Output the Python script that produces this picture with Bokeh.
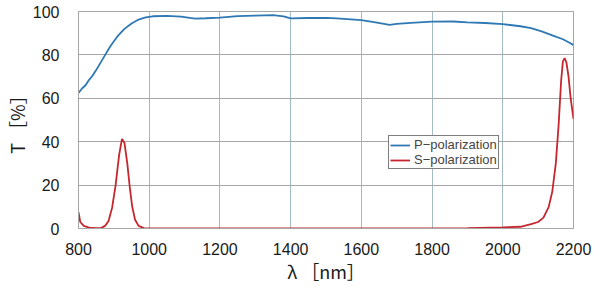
from bokeh.plotting import figure
from bokeh.models import Legend, LegendItem, Range1d, FixedTicker
from bokeh.embed import file_html
from bokeh.resources import INLINE

# P-polarization transmission (wavelength nm, T %)
p_wl = [800, 810, 820, 830, 840, 850, 870, 890, 910, 930, 950, 970, 990, 1010,
        1050, 1090, 1130, 1160, 1200, 1250, 1300, 1350, 1380, 1400, 1450, 1500,
        1530, 1560, 1600, 1640, 1680, 1700, 1740, 1800, 1860, 1900, 1950, 2000,
        2050, 2080, 2110, 2140, 2170, 2190, 2200]
p_t = [62.5, 64.5, 66.0, 68.5, 70.5, 73.0, 78.5, 84.0, 88.5, 92.0, 94.5, 96.3, 97.3, 97.8,
       98.0, 97.6, 96.7, 96.9, 97.2, 97.9, 98.1, 98.3, 97.8, 96.8, 97.0, 97.1,
       96.8, 96.5, 96.0, 95.0, 93.8, 94.3, 94.8, 95.3, 95.4, 95.0, 94.7, 94.2,
       93.2, 92.3, 90.8, 89.0, 87.2, 85.5, 84.5]

# S-polarization transmission
s_wl = [800, 805, 815, 830, 850, 865, 875, 885, 895, 905, 915, 923, 930, 938, 945,
        952, 960, 970, 985, 1000, 1200, 1400, 1600, 1800, 1900, 2000, 2050, 2080,
        2100, 2115, 2130, 2140, 2150, 2158, 2165, 2170, 2175, 2180, 2186, 2192, 2200]
s_t = [7.5, 3.0, 1.2, 0.4, 0.2, 0.3, 1.2, 3.5, 9.5, 20.0, 34.0, 41.3, 39.5, 30.0, 19.0,
       10.0, 4.0, 1.2, 0.2, 0.1, 0.1, 0.1, 0.1, 0.1, 0.2, 0.5, 0.8, 2.0,
       3.0, 5.0, 10.0, 17.0, 30.0, 48.0, 68.0, 77.0, 78.5, 76.5, 70.0, 60.0, 50.5]

x_ticks = [800, 1000, 1200, 1400, 1600, 1800, 2000, 2200]
y_ticks = [0, 20, 40, 60, 80, 100]
series_names = ["P\u2212polarization", "S\u2212polarization"]

p = figure(width=600, height=287, output_backend="svg", toolbar_location=None,
           x_range=Range1d(800, 2200), y_range=Range1d(0, 100),
           min_border_left=78, min_border_right=27, min_border_top=11, min_border_bottom=59)

p.outline_line_color = "#a6a6a6"
p.background_fill_color = "white"
p.border_fill_color = "white"

p.xaxis.ticker = FixedTicker(ticks=x_ticks)
p.yaxis.ticker = FixedTicker(ticks=y_ticks)
for ax in (p.xaxis[0], p.yaxis[0]):
    ax.major_tick_line_color = None
    ax.minor_tick_line_color = None
    ax.axis_line_color = "#a6a6a6"
    ax.major_label_text_font = "Liberation Sans"
    ax.major_label_text_font_size = "16px"
    ax.major_label_text_color = "#1a1a1a"
    ax.axis_label_text_font = "Noto Sans CJK JP"
    ax.axis_label_text_font_size = "18px"
    ax.axis_label_text_font_style = "normal"
    ax.axis_label_text_color = "#1a1a1a"

p.xaxis.axis_label = "\u03bb \uff3bnm\uff3d"
p.yaxis.axis_label = "T \uff3b%\uff3d"
p.xaxis.major_label_standoff = 8
p.xaxis.axis_label_standoff = 0
p.yaxis.major_label_standoff = 13
p.yaxis.axis_label_standoff = 0

p.xgrid.grid_line_color = "#a3bcc4"
p.ygrid.grid_line_color = "#a6a6a6"
p.xgrid.grid_line_width = 1
p.ygrid.grid_line_width = 1

r1 = p.line(p_wl, p_t, line_color="#2e78b4", line_width=1.8)
r2 = p.line(s_wl, s_t, line_color="#c6262e", line_width=1.8)

legend = Legend(items=[LegendItem(label=series_names[0], renderers=[r1]),
                       LegendItem(label=series_names[1], renderers=[r2])],
                location=(310, 59))
legend.border_line_color = "black"
legend.border_line_width = 1
legend.padding = 1
legend.margin = 0
legend.spacing = 0
legend.label_text_font = "Liberation Sans"
legend.label_text_font_size = "13px"
legend.label_height = 14
legend.glyph_height = 14
legend.glyph_width = 20
legend.label_standoff = 4
legend.background_fill_alpha = 1
p.add_layout(legend, "center")

open("out.html", "w").write(file_html(p, INLINE))
